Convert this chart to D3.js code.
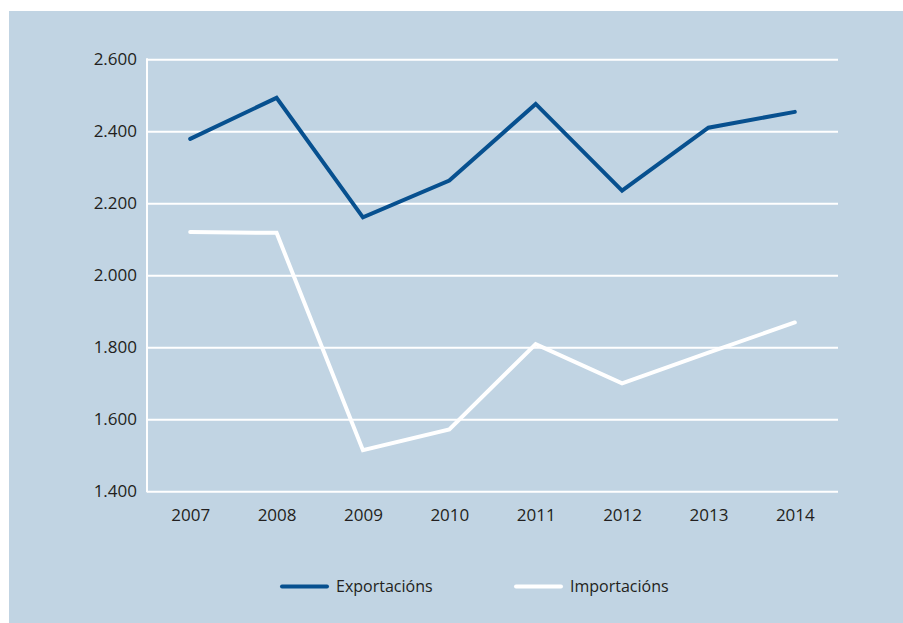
<!DOCTYPE html>
<html>
<head>
<meta charset="utf-8">
<script src="https://cdn.jsdelivr.net/npm/d3@7"></script>
<style>
  html, body { margin: 0; padding: 0; background: #ffffff; }
  svg { display: block; }
  text { font-family: "Open Sans", "DejaVu Sans", sans-serif; fill: #231f20; }
</style>
</head>
<body>
<svg id="chart" width="903" height="623"></svg>
<script>
// Years on the horizontal axis
const years = ["2007", "2008", "2009", "2010", "2011", "2012", "2013", "2014"];
// Series values
const exportacions = [2379, 2493, 2161, 2263, 2476, 2235, 2410, 2454];
const importacions = [2120, 2118, 1514, 1572, 1809, 1700, 1785, 1869];
// Y axis ticks
const yTicks = [1400, 1600, 1800, 2000, 2200, 2400, 2600];
const seriesNames = ["Exportacións", "Importacións"];

const svg = d3.select("#chart");
const W = 903, H = 623;
const panel = { x: 9, y: 11 };
const plot = { left: 147, right: 838, top: 59.3, bottom: 491.3 };
const colors = { bg: "#c1d4e3", exp: "#07508f", imp: "#ffffff", grid: "#ffffff" };

svg.append("rect")
  .attr("x", panel.x).attr("y", panel.y)
  .attr("width", W - panel.x).attr("height", H - panel.y)
  .attr("fill", colors.bg);

const x = d3.scalePoint().domain(years).range([plot.left, plot.right]).padding(0.5);
const y = d3.scaleLinear().domain([1400, 2600]).range([plot.bottom, plot.top]);
const fmt = v => d3.format(",")(v).replace(/,/g, ".");

// Horizontal gridlines and y labels
const yAxis = d3.axisLeft(y).tickValues(yTicks).tickFormat(fmt)
  .tickSize(-(plot.right - plot.left)).tickPadding(10);
const gy = svg.append("g").attr("transform", `translate(${plot.left},0)`).call(yAxis);
gy.select(".domain").remove();
gy.selectAll(".tick line").attr("stroke", colors.grid).attr("stroke-width", 2);
gy.selectAll(".tick text").attr("font-size", 17).attr("fill", "#231f20")
  .style("font-family", '"Open Sans", sans-serif');

// Vertical axis line
svg.append("line")
  .attr("x1", plot.left).attr("x2", plot.left)
  .attr("y1", y(2600) - 1).attr("y2", y(1400) + 1)
  .attr("stroke", colors.grid).attr("stroke-width", 2);

// X labels
const xAxis = d3.axisBottom(x).tickSize(0).tickPadding(18);
const gx = svg.append("g").attr("transform", `translate(0,${plot.bottom})`).call(xAxis);
gx.select(".domain").remove();
gx.selectAll(".tick text").attr("font-size", 17).attr("fill", "#231f20")
  .style("font-family", '"Open Sans", sans-serif');

// Lines
const line = d3.line().x((d, i) => x(years[i])).y(d => y(d));
[[exportacions, colors.exp], [importacions, colors.imp]].forEach(([vals, c]) => {
  svg.append("path").datum(vals)
    .attr("d", line).attr("fill", "none")
    .attr("stroke", c).attr("stroke-width", 4)
    .attr("stroke-linejoin", "miter").attr("stroke-linecap", "round");
});

// Legend
const legend = [
  { name: seriesNames[0], color: colors.exp, x: 282 },
  { name: seriesNames[1], color: colors.imp, x: 516 }
];
const lg = svg.append("g");
legend.forEach(l => {
  lg.append("line")
    .attr("x1", l.x).attr("x2", l.x + 45)
    .attr("y1", 586.5).attr("y2", 586.5)
    .attr("stroke", l.color).attr("stroke-width", 4).attr("stroke-linecap", "round");
  lg.append("text")
    .attr("x", l.x + 54).attr("y", 586.5)
    .attr("dy", "0.35em")
    .attr("font-size", 16)
    .text(l.name);
});
</script>
</body>
</html>
